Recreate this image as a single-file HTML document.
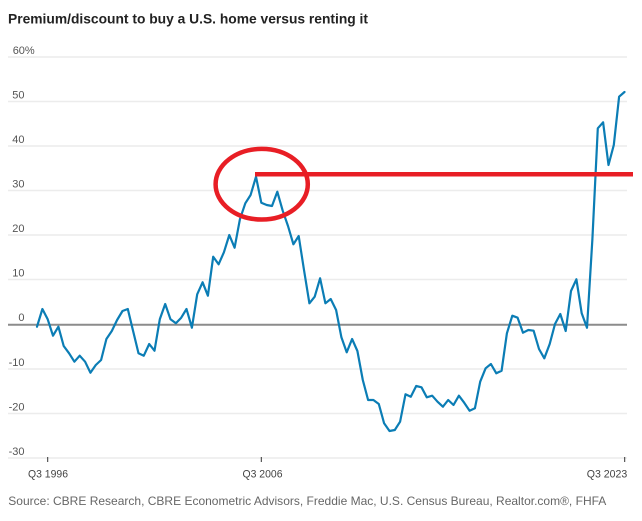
<!DOCTYPE html>
<html>
<head>
<meta charset="utf-8">
<style>
  html, body { margin: 0; padding: 0; background: #ffffff; }
  body { width: 642px; height: 521px; overflow: hidden; }
  svg { display: block; }
  text { font-family: "Liberation Sans", "DejaVu Sans", sans-serif; }
</style>
</head>
<body>
<svg width="642" height="521" viewBox="0 0 642 521" xmlns="http://www.w3.org/2000/svg">
  <!-- Title -->
  <text x="8" y="23.3" font-size="14" font-weight="bold" fill="#222" textLength="360" lengthAdjust="spacingAndGlyphs">Premium/discount to buy a U.S. home versus renting it</text>

  <!-- Gridlines -->
  <g stroke="#ececec" stroke-width="1.6">
    <line x1="8" y1="57" x2="627" y2="57"/>
    <line x1="8" y1="101.5" x2="627" y2="101.5"/>
    <line x1="8" y1="146" x2="627" y2="146"/>
    <line x1="8" y1="190.5" x2="627" y2="190.5"/>
    <line x1="8" y1="235" x2="627" y2="235"/>
    <line x1="8" y1="279.5" x2="627" y2="279.5"/>
    <line x1="8" y1="369" x2="627" y2="369"/>
    <line x1="8" y1="413.5" x2="627" y2="413.5"/>
    <line x1="8" y1="458" x2="627" y2="458"/>
  </g>
  <!-- Zero line -->
  <line x1="8" y1="324.8" x2="627" y2="324.8" stroke="#8c8c8c" stroke-width="2"/>

  <!-- Y labels -->
  <g font-size="11" fill="#555">
    <text x="12.7" y="54">60%</text>
  </g>
  <g font-size="11" fill="#555" text-anchor="end">
    <text x="24.5" y="98.5">50</text>
    <text x="24.5" y="143">40</text>
    <text x="24.5" y="187.5">30</text>
    <text x="24.5" y="232">20</text>
    <text x="24.5" y="276.5">10</text>
    <text x="24.5" y="321">0</text>
    <text x="24.5" y="366">-10</text>
    <text x="24.5" y="410.5">-20</text>
    <text x="24.5" y="455">-30</text>
  </g>

  <!-- X ticks -->
  <g stroke="#333" stroke-width="1">
    <line x1="47.7" y1="457" x2="47.7" y2="462"/>
    <line x1="261.3" y1="457" x2="261.3" y2="462"/>
    <line x1="624.7" y1="457" x2="624.7" y2="462"/>
  </g>
  <!-- X labels -->
  <g font-size="11" fill="#444">
    <text x="48" y="477.5" text-anchor="middle" textLength="40" lengthAdjust="spacingAndGlyphs">Q3 1996</text>
    <text x="262.5" y="477.5" text-anchor="middle" textLength="40" lengthAdjust="spacingAndGlyphs">Q3 2006</text>
    <text x="627.3" y="477.5" text-anchor="end" textLength="40.5" lengthAdjust="spacingAndGlyphs">Q3 2023</text>
  </g>

  <!-- Series -->
  <polyline fill="none" stroke="#0b7db5" stroke-width="2.2" stroke-linejoin="round" stroke-linecap="round"
    points="37.0,326.7 42.4,309 47.7,319.3 53.0,335.7 58.4,326.7 63.7,346 69.1,353.3 74.4,361.7 79.7,355.7 85.1,361.7 90.4,372.7 95.8,365 101.1,360 106.4,339 111.8,331 117.1,320 122.5,311 127.8,309 133.1,331 138.5,353.3 143.8,355.7 149.2,344 154.5,350.7 159.8,319.3 165.2,304 170.5,319.3 175.9,323.3 181.2,317.7 186.5,309 191.9,327.7 197.2,294.3 202.6,282.3 207.9,295.7 213.2,256.7 218.6,264.3 223.9,252.3 229.3,235 234.6,247.7 239.9,219.3 245.3,203.3 250.6,195 256.0,176.7 261.3,202.7 266.7,205 272.0,206 277.3,191.7 282.7,210.7 288.0,226 293.4,244.3 298.7,236 304.0,270 309.4,303.3 314.7,296.7 320.1,278.3 325.4,303.3 330.7,299 336.1,310 341.4,337.3 346.7,352.3 352.1,339 357.4,351 362.8,380 368.1,400 373.4,400 378.8,404 384.1,423.3 389.5,431 394.8,430 400.1,421.7 405.5,394.3 410.8,396.7 416.2,386 421.5,387.3 426.8,397.3 432.2,395.7 437.5,401.7 442.9,406.7 448.2,400 453.5,405 458.9,395.7 464.2,402.7 469.6,410.7 474.9,408.3 480.2,381.7 485.6,368.3 490.9,364 496.3,373.3 501.6,370.7 506.9,333.3 512.3,315.7 517.6,317.7 523.0,332.7 528.3,330 533.6,330.7 539.0,349 544.3,358.3 549.7,344 555.0,324 560.3,314 565.7,331 571.0,291 576.4,279.3 581.7,313.3 587.0,327.7 592.4,239 597.8,128.3 603.1,122.3 608.5,165 613.8,145 619.1,96.7 624.5,92"/>

  <!-- Red annotation -->
  <line x1="255" y1="174.3" x2="633" y2="174.3" stroke="#e81e25" stroke-width="4.5"/>
  <ellipse cx="261.7" cy="184.2" rx="46.1" ry="35.3" fill="none" stroke="#e81e25" stroke-width="4.5"/>

  <!-- Source -->
  <text x="8.3" y="505" font-size="12" fill="#666" textLength="598" lengthAdjust="spacingAndGlyphs">Source: CBRE Research, CBRE Econometric Advisors, Freddie Mac, U.S. Census Bureau, Realtor.com®, FHFA</text>
</svg>
</body>
</html>
